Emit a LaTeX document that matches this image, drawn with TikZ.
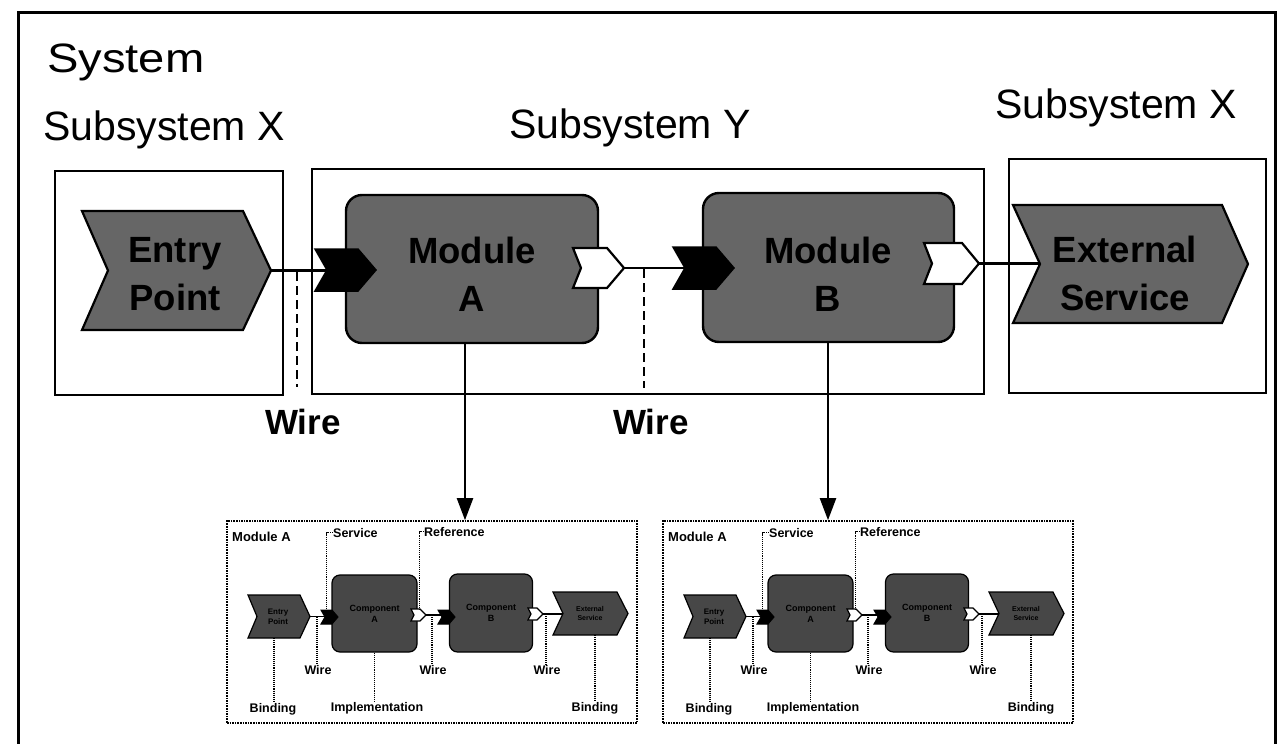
\documentclass[tikz,border=0pt]{standalone}
\usepackage{fontspec}
\setmainfont{Liberation Sans}
\newfontfamily\sysfont[FakeStretch=1.15]{Liberation Sans}
\usetikzlibrary{arrows.meta}
\definecolor{modgray}{gray}{0.40}
\definecolor{smallgray}{gray}{0.28}
% chevron: #1 style, #2 name, #3 left x, #4 notch depth, #5 flat right x, #6 tip x, #7 top y, #8 bottom y
\newcommand\chev[8]{%
  \draw[#1] (#3,#7) -- (#5,#7) -- (#6,{(#7+#8)/2}) -- (#5,#8) -- (#3,#8) -- ({#3+#4},{(#7+#8)/2}) -- cycle;
  \coordinate (#2-tip) at (#6,{(#7+#8)/2});
  \coordinate (#2-notch) at ({#3+#4},{(#7+#8)/2});
  \coordinate (#2-top) at ({(#3+#5)/2},#7);
  \coordinate (#2-bot) at ({(#3+#5)/2},#8);
}
\begin{document}
\begin{tikzpicture}[x=1pt,y=-1pt,
  frame/.style={line width=3pt},
  subbox/.style={draw, line width=2.6pt},
  module/.style={draw, line width=2.4pt, fill=modgray, rounded corners=16pt, inner sep=0pt},
  intext/.style={inner sep=0pt, align=center, font=\fontsize{36.5}{48}\selectfont\bfseries},
  chevdark/.style={draw, line width=2.2pt, fill=modgray},
  svcpin/.style={fill=black, draw=black, line width=1.5pt},
  refpin/.style={fill=white, draw=black, line width=2.2pt},
  wire/.style={line width=2.6pt},
  wiremark/.style={line width=2.4pt, dash pattern=on 9pt off 5pt},
  lbl/.style={font=\fontsize{41}{48}\selectfont, anchor=base west, inner sep=0pt},
  wirelbl/.style={font=\fontsize{35}{40}\selectfont\bfseries, anchor=base, inner sep=0pt},
  callarrow/.style={line width=2.2pt, -{Triangle[length=22pt,width=16pt]}},
  smallframe/.style={draw, line width=1.6pt, densely dotted, minimum width=410pt, minimum height=202pt, inner sep=0pt},
  smallcomp/.style={draw, line width=1.2pt, fill=smallgray, rounded corners=8pt, inner sep=0pt, align=center, font=\fontsize{9}{11}\selectfont\bfseries},
  smallchev/.style={draw, line width=1.2pt, fill=smallgray},
  smallsvc/.style={fill=black, draw=black, line width=1pt},
  smallref/.style={fill=white, draw=black, line width=1.2pt},
  smallwire/.style={line width=1.4pt},
  leader/.style={line width=1.1pt, densely dotted},
  slbl/.style={font=\fontsize{12.5}{14}\selectfont\bfseries, inner sep=0pt},
  tinytext/.style={inner sep=0pt, align=center, font=\fontsize{8}{9.5}\selectfont\bfseries}
]
\path[use as bounding box] (0,0) rectangle (1278,744);
\clip (0,0) rectangle (1278,744);

% outer system frame
\draw[frame] (18,760) -- (18,12) -- (1275,12) -- (1275,760);
\node[lbl, font=\fontsize{41}{48}\sysfont] (sys) at (47,72) {System};

% subsystem labels
\node[lbl] (subx1) at (43,140) {Subsystem X};
\node[lbl] (suby) at (509,138) {Subsystem Y};
\node[lbl] (subx2) at (995,118) {Subsystem X};

% subsystem boxes
\node[subbox, minimum width=228pt, minimum height=224pt, inner sep=0pt] (bx1) at (169,283) {};
\node[subbox, minimum width=672pt, minimum height=225pt, inner sep=0pt] (by) at (648,281.5) {};
\node[subbox, minimum width=257pt, minimum height=234pt, inner sep=0pt] (bx2) at (1137.5,276) {};

% modules
\node[module, minimum width=252pt, minimum height=148pt] (modA) at (472,269) {};
\node[module, minimum width=251pt, minimum height=149pt] (modB) at (828.5,267.5) {};

% entry point and external service
\chev{chevdark}{ep}{82}{26}{243}{271}{211}{330}
\chev{chevdark}{ex}{1013}{27}{1222}{1248}{205}{323}

% service and reference pins
\chev{svcpin}{sa}{315}{12}{358}{376}{249}{291}
\chev{refpin}{ra}{573}{8}{607}{624}{248}{288}
\chev{svcpin}{sb}{673}{12}{716}{734}{247}{289}
\chev{refpin}{rb}{924}{8}{962}{979}{243}{284}

% texts
\node[intext] (ept) at (175,274) {Entry\\Point};
\node[intext] (modAt) at (472,274) {Module\\A};
\node[intext] (modBt) at (828,274) {Module\\B};
\node[intext] (ext) at (1125,273) {External\\Service};

% wires
\draw[wire] (ep-tip) -- (ep-tip -| sa-notch);
\draw[wire] (ra-tip) -- (ra-tip -| sb-notch);
\draw[wire] (rb-tip) -- (rb-tip -| ex-notch);

% wire markers
\coordinate (wm1) at (297,272);
\coordinate (wm1e) at (297,387);
\coordinate (wm2) at (644,269);
\coordinate (wm2e) at (644,388);
\draw[wiremark] (wm1) -- (wm1e);
\draw[wiremark] (wm2) -- (wm2e);
\node[wirelbl] (w1) at (303,434) {Wire};
\node[wirelbl] (w2) at (651,434) {Wire};

% small module diagrams
\foreach \i/\dx in {1/0,2/436}{
\begin{scope}[shift={(\dx,0)}]
  \node[smallframe] (sf\i) at (432,622) {};
  \node[slbl, anchor=base west, font=\fontsize{13}{15}\selectfont\bfseries] (ml\i) at (232,541) {Module A};
  \node[slbl, anchor=base west] (sl\i) at (333,537) {Service};
  \node[slbl, anchor=base west] (rl\i) at (424,536) {Reference};
  \node[smallcomp, minimum width=85pt, minimum height=77pt] (ca\i) at (374.5,613.5) {Component\\A};
  \node[smallcomp, minimum width=83pt, minimum height=78pt] (cb\i) at (491,613) {Component\\B};
  \chev{smallchev}{se\i}{248}{9}{300}{310}{595}{638}
  \chev{smallchev}{sx\i}{553}{10}{617}{628}{592}{635}
  \node[tinytext] (set\i) at (278,617) {Entry\\Point};
  \node[tinytext, font=\fontsize{7}{9}\selectfont\bfseries] (sxt\i) at (590,613.5) {External\\Service};
  \chev{smallsvc}{sa\i}{321}{4}{332}{338}{610}{624}
  \chev{smallref}{ra\i}{411}{3}{420}{426}{609}{621}
  \chev{smallsvc}{sb\i}{438}{4}{449}{455}{610}{624}
  \chev{smallref}{rb\i}{528}{3}{537}{543}{608}{620}
  \draw[smallwire] (se\i-tip) -- (se\i-tip -| sa\i-notch);
  \draw[smallwire] (ra\i-tip) -- (ra\i-tip -| sb\i-notch);
  \draw[smallwire] (rb\i-tip) -- (rb\i-tip -| sx\i-notch);
  \coordinate (ja\i) at (317,617);
  \coordinate (jb\i) at (432,615);
  \coordinate (jc\i) at (546,614);
  \node[slbl, anchor=base] (wa\i) at (318,674) {Wire};
  \node[slbl, anchor=base] (wb\i) at (433,674) {Wire};
  \node[slbl, anchor=base] (wc\i) at (547,674) {Wire};
  \node[slbl, anchor=base] (bl\i) at (273,712) {Binding};
  \node[slbl, anchor=base] (il\i) at (377,711) {Implementation};
  \node[slbl, anchor=base] (br\i) at (595,711) {Binding};
  \coordinate (sxl\i) at (595,635);
  \draw[leader] (sl\i.west) -| (sa\i-top);
  \draw[leader] (rl\i.west) -| ([xshift=4pt]ra\i-top);
  \draw[leader] (ja\i) -- (ja\i |- wa\i.north);
  \draw[leader] (jb\i) -- (jb\i |- wb\i.north);
  \draw[leader] (jc\i) -- (jc\i |- wc\i.north);
  \draw[leader] (se\i-bot) -- (se\i-bot |- bl\i.north);
  \draw[leader] (ca\i.south) -- (ca\i.south |- il\i.north);
  \draw[leader] (sxl\i) -- (sxl\i |- br\i.north);
\end{scope}
}

% call arrows
\coordinate (a1) at (465,0);
\coordinate (a2) at (828,0);
\draw[callarrow] (modA.south -| a1) -- (sf1.north -| a1);
\draw[callarrow] (modB.south -| a2) -- (sf2.north -| a2);
\end{tikzpicture}
\end{document}
